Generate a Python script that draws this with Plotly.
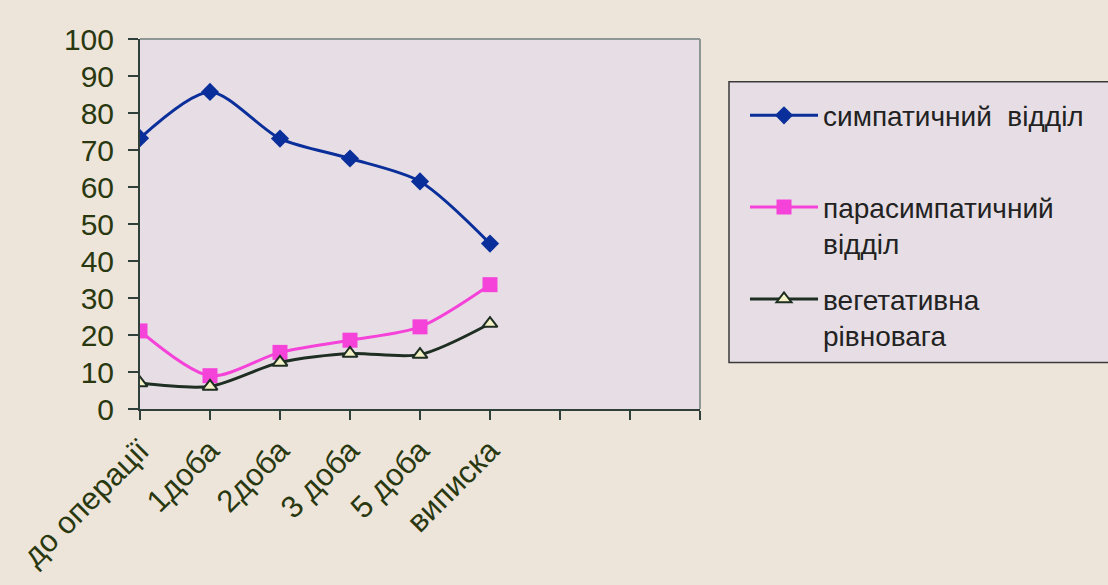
import plotly.graph_objects as go

categories = ["до операції", "1доба", "2доба", "3 доба", "5 доба", "виписка"]
n_slots = 8  # category slots on the x axis (last two empty)

sympathetic = [73.2, 85.7, 73.1, 67.7, 61.5, 44.7]
parasympathetic = [21.1, 9.0, 15.3, 18.6, 22.2, 33.6]
balance = [7.0, 6.1, 12.6, 15.0, 14.7, 23.1]

series_names = ["симпатичний  відділ<br>\u00a0", "парасимпатичний<br>відділ", "вегетативна<br>рівновага"]

x = list(range(len(categories)))
tickvals = list(range(n_slots + 1))
ticktext = categories + [""] * (n_slots + 1 - len(categories))

BG = "#EDE5D9"
PLOT_BG = "#E7DEE5"
TXT = "#2A3810"

fig = go.Figure()
fig.add_trace(go.Scatter(
    x=x, y=sympathetic, name=series_names[0], mode="lines+markers",
    line=dict(color="#0B2F9A", width=3, shape="spline", smoothing=0.8),
    marker=dict(symbol="diamond", size=14, color="#0B2F9A"),
    legendgroup="a"))
fig.add_trace(go.Scatter(
    x=x, y=parasympathetic, name=series_names[1], mode="lines+markers",
    line=dict(color="#F542D8", width=3, shape="spline", smoothing=0.8),
    marker=dict(symbol="square", size=15, color="#F542D8"),
    legendgroup="b"))
fig.add_trace(go.Scatter(
    x=x, y=balance, name=series_names[2], mode="lines+markers",
    line=dict(color="#1E2E22", width=3, shape="spline", smoothing=0.8),
    marker=dict(symbol="triangle-up", size=13, color="#F4F2C6",
                line=dict(color="#1E2E22", width=2)),
    legendgroup="c"))

# legend box
fig.add_shape(type="rect", xref="paper", yref="paper",
              x0=(729 - 140) / 560, x1=(1120 - 140) / 560,
              y0=(412 - 365) / 373, y1=(412 - 82) / 373,
              fillcolor=PLOT_BG, line=dict(color="#3A3A3A", width=1.5),
              layer="below")

fig.update_layout(
    width=1108, height=585,
    margin=dict(l=140, r=408, t=39, b=173),
    paper_bgcolor=BG, plot_bgcolor=PLOT_BG,
    font=dict(family="Liberation Sans, Arial, sans-serif", color=TXT),
    showlegend=True,
    legend=dict(
        x=(745 - 140) / 560, y=(412 - 91) / 373, xanchor="left", yanchor="top",
        bgcolor="rgba(0,0,0,0)", borderwidth=0,
        font=dict(size=28, color="#222222", family="Liberation Sans, Arial, sans-serif"),
        tracegroupgap=16, valign="top", itemwidth=68,
    ),
    xaxis=dict(
        range=[0, n_slots], tickmode="array", tickvals=tickvals, ticktext=ticktext,
        tickangle=-45, ticks="outside", ticklen=9, tickcolor="#2F3F3A", tickwidth=1.5,
        showline=True, linecolor="#2F3F3A", linewidth=2, showgrid=False, zeroline=False,
        tickfont=dict(size=31, color=TXT), fixedrange=True,
    ),
    yaxis=dict(
        range=[0, 100], dtick=10, ticks="outside", ticklen=10, tickcolor="#2F3F3A",
        tickwidth=1.5, showline=True, linecolor="#2F3F3A", linewidth=2,
        showgrid=False, zeroline=False, tickfont=dict(size=30, color=TXT),
        ticklabelstandoff=8,
    ),
)
# right/top border of plot area
fig.add_shape(type="line", xref="paper", yref="paper", x0=0, x1=1, y0=1, y1=1,
              line=dict(color="#8E9696", width=2))
fig.add_shape(type="line", xref="paper", yref="paper", x0=1, x1=1, y0=0, y1=1,
              line=dict(color="#8E9696", width=2))

fig.write_html("out.html", config={"displayModeBar": False},
               post_script="document.body.style.margin='0';document.body.style.overflow='hidden';")
